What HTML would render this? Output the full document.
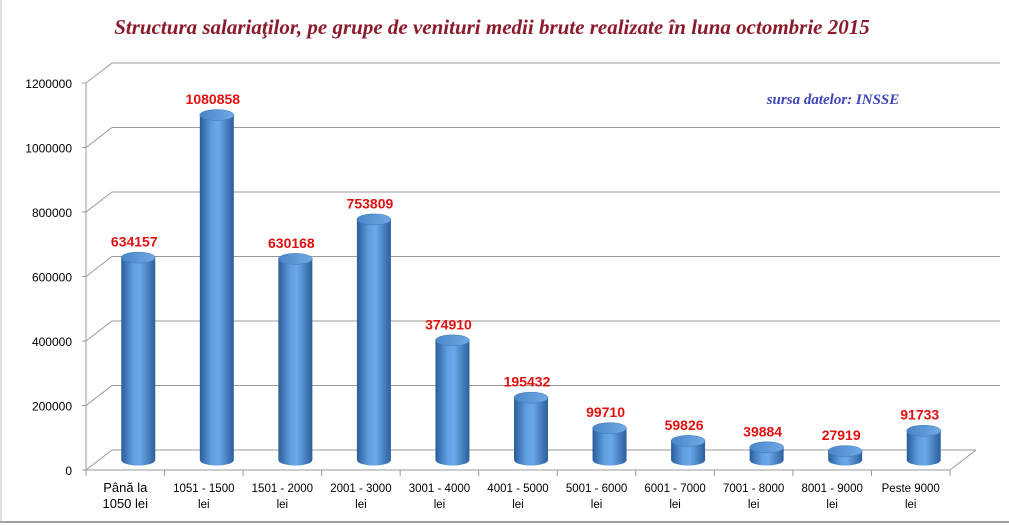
<!DOCTYPE html>
<html><head><meta charset="utf-8"><style>
body{margin:0;background:#fff;}
svg{display:block;}
</style></head><body>
<svg id="c" width="1009" height="526" xmlns="http://www.w3.org/2000/svg">
<defs>
<linearGradient id="cyl" x1="0" x2="1" y1="0" y2="0">
<stop offset="0" stop-color="#2a5d9a"/><stop offset="0.35" stop-color="#5f9ee0"/><stop offset="0.55" stop-color="#6aa8ea"/><stop offset="1" stop-color="#2c5f9c"/>
</linearGradient>
<linearGradient id="topg" x1="0" x2="1"><stop offset="0" stop-color="#4a86c8"/><stop offset="1" stop-color="#6fa9e6"/></linearGradient>
</defs>
<text x="492" y="34" text-anchor="middle" font-family="Liberation Serif, serif" font-style="italic" font-weight="bold" font-size="21" fill="#8b1a2b">Structura salariaţilor, pe grupe de venituri medii brute realizate în luna octombrie 2015</text>
<text x="833" y="104" text-anchor="middle" font-family="Liberation Serif, serif" font-style="italic" font-weight="bold" font-size="15" fill="#3a45b8">sursa datelor: INSSE</text>
<line x1="0" y1="522" x2="1009" y2="522" stroke="#a0a0a0" stroke-width="2"/>
<line x1="1" y1="0" x2="1" y2="522" stroke="#c0c0c0" stroke-width="1"/>
<g id="grid"></g><g id="bars"></g><g id="axes"></g>
</svg>
<script>
const categories=[["Până la","1050 lei"],["1051 - 1500","lei"],["1501 - 2000","lei"],["2001 - 3000","lei"],["3001 - 4000","lei"],["4001 - 5000","lei"],["5001 - 6000","lei"],["6001 - 7000","lei"],["7001 - 8000","lei"],["8001 - 9000","lei"],["Peste 9000","lei"]];
const values=[634157,1080858,630168,753809,374910,195432,99710,59826,39884,27919,91733];
const yTicks=[0,200000,400000,600000,800000,1000000,1200000];
const NS="http://www.w3.org/2000/svg";
const X0=86,X1=950,Y0=470,YMAX=1200000,H=387,HB=383,DX=26,DY=-20;
const y=v=>Y0-v/YMAX*H;
const cw=(X1-X0)/categories.length;
const xc=i=>X0+cw*(i+0.5);
function mk(t,a,p){const e=document.createElementNS(NS,t);for(const k in a)e.setAttribute(k,a[k]);p.appendChild(e);return e;}
const grid=document.getElementById('grid'),bars=document.getElementById('bars'),axes=document.getElementById('axes');
yTicks.forEach(v=>{
 const g=mk('g',{},grid);
 
 
 mk('polyline',{points:`${X0},${y(v)} ${X0+DX},${y(v)+DY} ${v===0?X1+DX:1000},${y(v)+DY}`,fill:'none',stroke:'#999','stroke-width':1},g);
 const t=mk('text',{x:72,y:y(v)+5,'text-anchor':'end','font-family':'Liberation Sans, sans-serif','font-size':12,fill:'#000'},axes);
 t.textContent=v;
 
 
 mk('line',{x1:X0-4,y1:y(v),x2:X0,y2:y(v),stroke:'#999'},axes);
});
const floor=mk('polyline',{points:`${X0},${Y0} ${X1},${Y0} ${X1+DX},${Y0+DY}`,fill:'none',stroke:'#999'},grid);


mk('line',{x1:X0,y1:y(YMAX),x2:X0,y2:Y0+6,stroke:'#999'},axes);
for(let i=0;i<=categories.length;i++){const x=X0+cw*i;mk('line',{x1:x,y1:Y0,x2:x,y2:Y0+6,stroke:'#999'},axes);}
values.forEach((v,i)=>{
 const cx=xc(i)+13,r=17,ry=5.5,yb=460,yt=yb-v/YMAX*HB;
 const g=mk('g',{},bars);
 
 
 mk('path',{d:`M${cx-r},${yt} L${cx-r},${yb} A${r},${ry} 0 0 0 ${cx+r},${yb} L${cx+r},${yt} Z`,fill:'url(#cyl)'},g);
 mk('ellipse',{cx:cx,cy:yt,rx:r,ry:ry,fill:'url(#topg)',stroke:'#3f78b8','stroke-width':0.5},g);
 const t=mk('text',{x:cx-4,y:yt-11,'text-anchor':'middle','font-family':'Liberation Sans, sans-serif','font-weight':'bold','font-size':14,fill:'#e31010'},bars);
 t.textContent=v;
 
 
 categories[i].forEach((s,j)=>{
  const c=mk('text',{x:xc(i),y:492+j*16,'text-anchor':'middle','font-family':'Liberation Sans, sans-serif','font-size':i===0?13:11.5,fill:'#000'},axes);
  c.textContent=s;
  
  
 });
});
</script>
</body></html>
